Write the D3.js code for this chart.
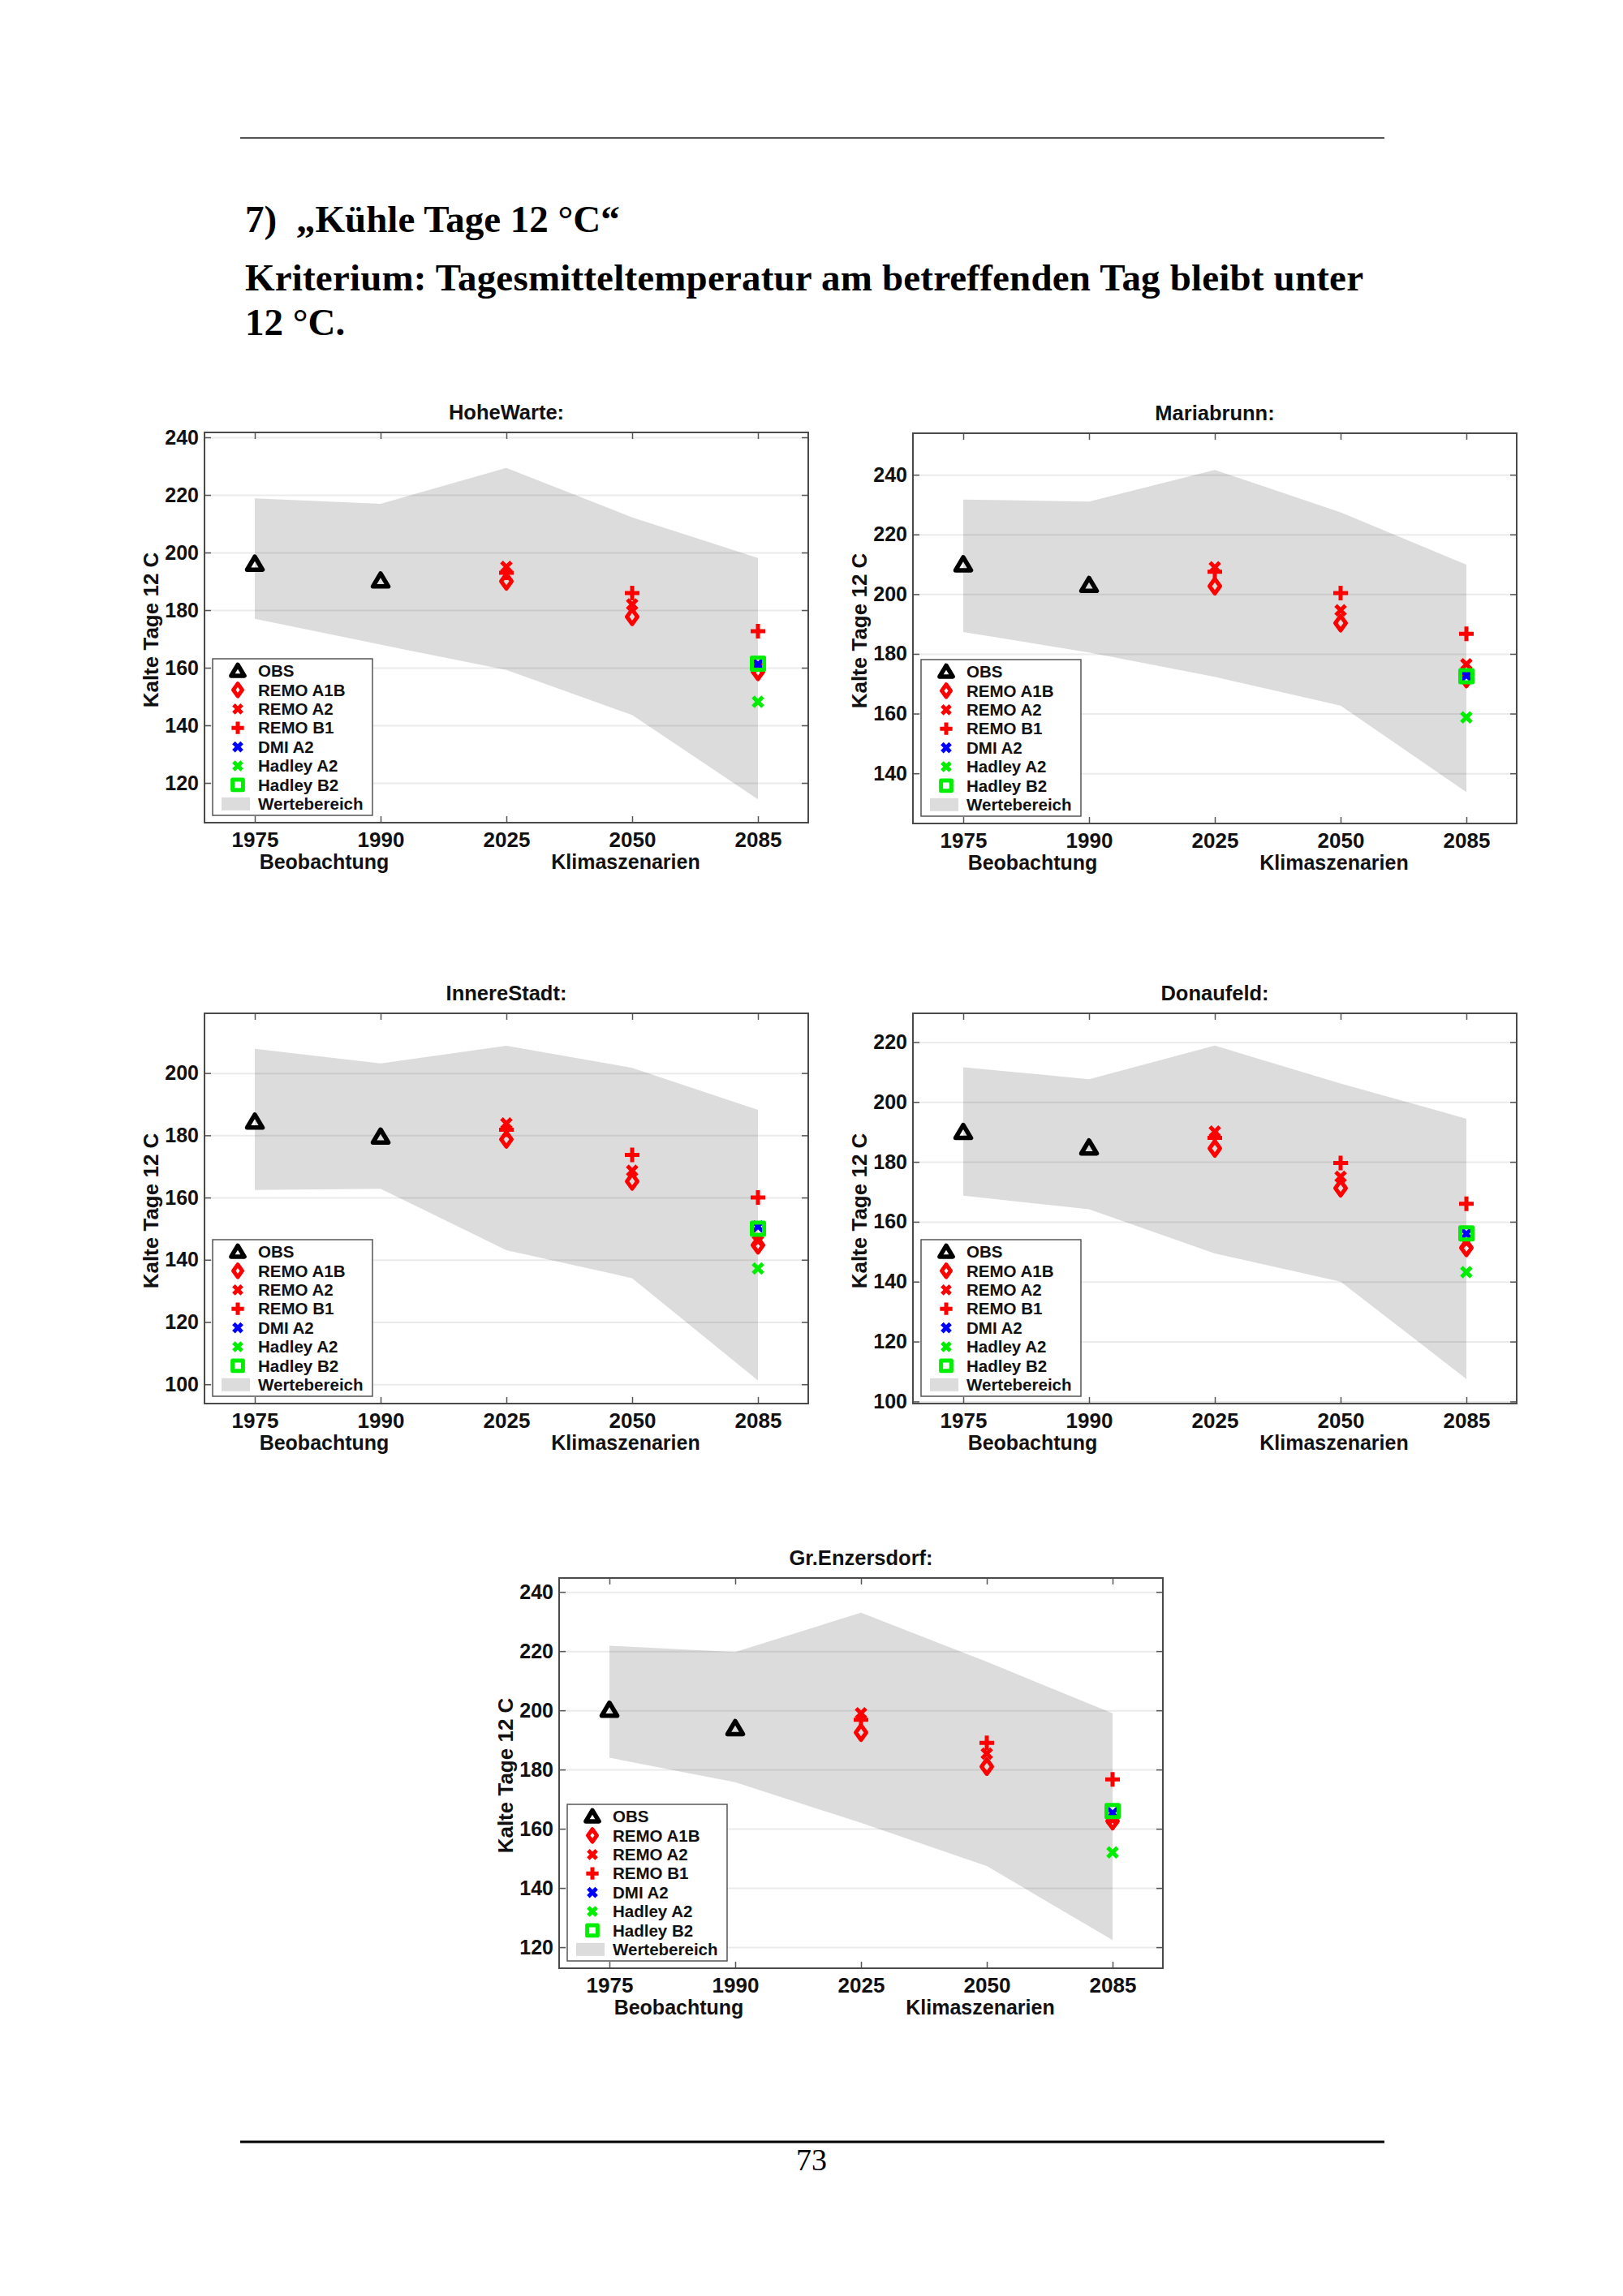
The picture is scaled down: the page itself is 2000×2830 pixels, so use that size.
<!DOCTYPE html>
<html>
<head>
<meta charset="utf-8">
<script src="https://cdn.jsdelivr.net/npm/d3@7"></script>
<style>
  body { margin: 0; background: #fff; }
  svg { display: block; }
  .chart text { font-family: "Liberation Sans", Arial, sans-serif; font-weight: bold; fill: #111; }
  .doc text { font-family: "Liberation Serif", "Times New Roman", serif; fill: #000; }
</style>
</head>
<body>
<svg id="page"></svg>
<script>
// --- data --------------------------------------------------------------
const periods      = ['1975', '1990', '2025', '2050', '2085'];
const obsPeriods   = ['1975', '1990'];
const modelPeriods = ['2025', '2050', '2085'];
const stations     = ['HoheWarte:', 'Mariabrunn:', 'InnereStadt:', 'Donaufeld:', 'Gr.Enzersdorf:'];
const seriesNames  = ['OBS', 'REMO A1B', 'REMO A2', 'REMO B1', 'DMI A2', 'Hadley A2', 'Hadley B2', 'Wertebereich'];

// y axis limits and ticks per station
const yLimits = [[106.2, 241.7], [123.2, 253.9], [93.8, 219.2], [99.3, 229.6], [112.9, 244.7]];
const yTicks  = [
  [120, 140, 160, 180, 200, 220, 240],
  [140, 160, 180, 200, 220, 240],
  [100, 120, 140, 160, 180, 200],
  [100, 120, 140, 160, 180, 200, 220],
  [120, 140, 160, 180, 200, 220, 240]
];

// observations 1975, 1990
const obs = [[196, 190.2], [209.9, 203], [184.3, 179.5], [189.9, 184.7], [200.1, 193.9]];

// range of values (Wertebereich), one value per period
const bandTop = [
  [218.8, 216.9, 229.4, 212.2, 198.1],
  [231.7, 231.0, 241.6, 227.4, 209.9],
  [207.8, 203.1, 208.8, 201.7, 188.2],
  [211.6, 207.6, 218.8, 206.2, 194.4],
  [221.8, 219.7, 233.0, 216.4, 199.0]
];
const bandBottom = [
  [177.0, 168.0, 159.2, 143.6, 114.3],
  [187.3, 180.5, 172.3, 162.7, 133.7],
  [162.4, 162.8, 143.1, 134.1, 101.2],
  [168.7, 164.2, 149.4, 140.0, 107.5],
  [184.0, 175.7, 162.0, 147.4, 122.4]
];

// REMO scenarios 2025, 2050, 2085
const remoA1B = [[190, 177.7, 158.6], [202.7, 190.3, 171.6], [178.7, 165.2, 144.7], [184.5, 171.2, 151.3], [192.5, 181, 162.6]];
const remoA2  = [[195, 182, 160], [209, 194.6, 176.5], [183.8, 168.6, 146], [190.1, 175, 153], [199, 185.4, 163]];
const remoB1  = [[193, 185.9, 172.7], [207.5, 200.4, 186.7], [181.8, 173.7, 160], [188, 179.6, 166], [196.8, 189, 176.7]];

// other models, 2085 only
const dmiA2    = [161.2, 172.7, 150.7, 156, 165.3];
const hadleyA2 = [148.2, 158.7, 137.2, 143.2, 152];
const hadleyB2 = [161.4, 172.5, 150, 156.1, 166];

// --- layout ----------------------------------------------------------
const W = 2000, H = 2830;
const PANEL_W = 744, PANEL_H = 481;
const panelPos = [[252, 533], [1125, 534], [252, 1249], [1125, 1249], [689, 1945]];

const RED = '#ff0000', BLUE = '#0000ff', GREEN = '#00ee00', BAND = '#dcdcdc';

const markers = {
  tri:     { d: 'M0,-9L9.5,7L-9.5,7Z', w: 5.5 },
  diamond: { d: 'M0,-9L6.5,0L0,9L-6.5,0Z', w: 5 },
  cross:   { d: 'M-6,-6L6,6M6,-6L-6,6', w: 5 },
  plus:    { d: 'M-9,0L9,0M0,-9L0,9', w: 5 },
  square:  { d: 'M-7.5,-7.5H7.5V7.5H-7.5Z', w: 5 }
};
const seriesStyle = [
  ['tri', '#000'], ['diamond', RED], ['cross', RED], ['plus', RED],
  ['cross', BLUE], ['cross', GREEN], ['square', GREEN]
];

function drawMarker(g, type, color, px, py, k = 1) {
  const m = markers[type];
  g.append('path')
    .attr('d', m.d)
    .attr('transform', `translate(${px},${py}) scale(${k})`)
    .attr('fill', 'none')
    .attr('stroke', color)
    .attr('stroke-width', m.w / k)
    .attr('stroke-linejoin', 'round');
}

const svg = d3.select('#page').attr('width', W).attr('height', H).attr('viewBox', `0 0 ${W} ${H}`);
svg.append('rect').attr('width', W).attr('height', H).attr('fill', '#fff');

// --- page text ---------------------------------------------------------
const doc = svg.append('g').attr('class', 'doc');
doc.append('line').attr('x1', 296).attr('x2', 1706).attr('y1', 170).attr('y2', 170)
  .attr('stroke', '#555').attr('stroke-width', 2);
doc.append('text').attr('x', 302).attr('y', 286).attr('font-size', 47).attr('font-weight', 'bold').text('7)');
doc.append('text').attr('x', 365).attr('y', 286).attr('font-size', 47).attr('font-weight', 'bold')
  .text('\u201EK\u00FChle Tage 12 \u00B0C\u201C');

doc.append('text').attr('x', 302).attr('y', 358).attr('font-size', 47).attr('font-weight', 'bold')
  .attr('textLength', 1378).attr('lengthAdjust', 'spacing')
  .text('Kriterium: Tagesmitteltemperatur am betreffenden Tag bleibt unter');
doc.append('text').attr('x', 302).attr('y', 413).attr('font-size', 47).attr('font-weight', 'bold').text('12 \u00B0C.');

doc.append('line').attr('x1', 296).attr('x2', 1706).attr('y1', 2640).attr('y2', 2640)
  .attr('stroke', '#000').attr('stroke-width', 3);
doc.append('text').attr('x', 1000).attr('y', 2675).attr('font-size', 38).attr('text-anchor', 'middle').text('73');

// --- panels ------------------------------------------------------------
const x = d3.scalePoint().domain(periods).range([0, PANEL_W]).padding(0.4);

stations.forEach((name, s) => {
  const [px, py] = panelPos[s];
  const y = d3.scaleLinear().domain(yLimits[s]).range([PANEL_H, 0]);
  const g = svg.append('g').attr('class', 'chart').attr('transform', `translate(${px},${py})`);

  // Wertebereich
  const area = d3.area()
    .x(i => x(periods[i]))
    .y0(i => y(bandBottom[s][i]))
    .y1(i => y(bandTop[s][i]));
  g.append('path').datum(d3.range(periods.length)).attr('d', area).attr('fill', BAND);

  // grid
  const grid = g.append('g')
    .call(d3.axisLeft(y).tickValues(yTicks[s]).tickSize(-PANEL_W).tickFormat(''));
  grid.select('.domain').remove();
  grid.selectAll('line').attr('stroke', '#000').attr('stroke-opacity', 0.08).attr('stroke-width', 2);

  // markers
  const mk = g.append('g');
  obsPeriods.forEach((p, i) => drawMarker(mk, 'tri', '#000', x(p), y(obs[s][i])));
  [remoA1B, remoA2, remoB1].forEach((arr, k) => {
    const [type, color] = seriesStyle[k + 1];
    modelPeriods.forEach((p, i) => drawMarker(mk, type, color, x(p), y(arr[s][i])));
  });
  [dmiA2, hadleyA2, hadleyB2].forEach((arr, k) => {
    const [type, color] = seriesStyle[k + 4];
    drawMarker(mk, type, color, x('2085'), y(arr[s]));
  });

  // axes, ticks pointing inward
  const left = g.append('g')
    .call(d3.axisLeft(y).tickValues(yTicks[s]).tickSizeInner(-8).tickSizeOuter(0).tickPadding(7));
  left.selectAll('text').attr('font-size', 25);
  const right = g.append('g').attr('transform', `translate(${PANEL_W},0)`)
    .call(d3.axisRight(y).tickValues(yTicks[s]).tickSizeInner(-8).tickSizeOuter(0).tickFormat(''));
  const top = g.append('g')
    .call(d3.axisTop(x).tickSizeInner(-8).tickSizeOuter(0).tickFormat(''));
  const bottom = g.append('g').attr('transform', `translate(0,${PANEL_H})`)
    .call(d3.axisBottom(x).tickSizeInner(-8).tickSizeOuter(0).tickPadding(12));
  bottom.selectAll('text').attr('font-size', 26);
  [left, right, top, bottom].forEach(a => {
    a.select('.domain').remove();
    a.selectAll('line').attr('stroke', '#555').attr('stroke-width', 1.5);
  });
  g.append('rect').attr('width', PANEL_W).attr('height', PANEL_H)
    .attr('fill', 'none').attr('stroke', '#4a4a4a').attr('stroke-width', 2);

  // labels
  g.append('text').attr('x', PANEL_W / 2).attr('y', -16).attr('text-anchor', 'middle')
    .attr('font-size', 25.5).text(name);
  g.append('text').attr('transform', `translate(-57,${PANEL_H / 2 + 3}) rotate(-90)`)
    .attr('text-anchor', 'middle').attr('font-size', 26).text('Kalte Tage 12 C');
  g.append('text').attr('x', (x('1975') + x('1990')) / 2 + 8).attr('y', PANEL_H + 57)
    .attr('text-anchor', 'middle').attr('font-size', 25).text('Beobachtung');
  g.append('text').attr('x', x('2050') - 8).attr('y', PANEL_H + 57)
    .attr('text-anchor', 'middle').attr('font-size', 25).text('Klimaszenarien');

  // legend
  const lw = 197, lh = 193;
  const lg = g.append('g').attr('transform', `translate(10,${PANEL_H - 9 - lh})`);
  lg.append('rect').attr('width', lw).attr('height', lh)
    .attr('fill', '#fff').attr('stroke', '#555').attr('stroke-width', 1.5);
  seriesNames.forEach((label, i) => {
    const ry = 15 + i * 23.4;
    if (i < seriesStyle.length) {
      drawMarker(lg, seriesStyle[i][0], seriesStyle[i][1], 31, ry, 0.85);
    } else {
      lg.append('rect').attr('x', 11).attr('y', ry - 8).attr('width', 35).attr('height', 16).attr('fill', BAND);
    }
    lg.append('text').attr('x', 56).attr('y', ry).attr('dy', '0.35em').attr('font-size', 20.5).text(label);
  });
});
</script>
</body>
</html>
